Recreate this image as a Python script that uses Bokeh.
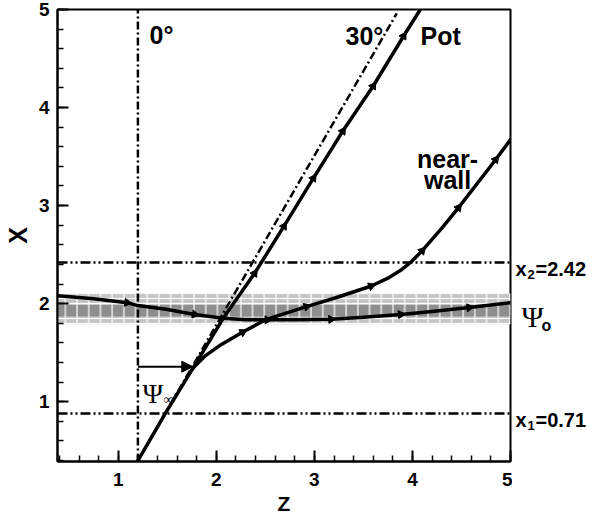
import numpy as np
from bokeh.plotting import figure
from bokeh.layouts import row
from bokeh.models import Range1d, Label, Arrow, NormalHead, SingleIntervalTicker
from bokeh.embed import file_html
from bokeh.resources import INLINE

# ---- data ----
pot_z = [1.20, 1.48, 1.76, 2.07, 2.39, 2.69, 2.99, 3.29, 3.60, 3.91, 4.08]
pot_x = [0.40, 0.88, 1.34, 1.85, 2.31, 2.79, 3.28, 3.76, 4.22, 4.73, 5.00]
pot_mk_z = [2.39, 2.69, 2.99, 3.29, 3.60, 3.91]
pot_mk_x = [2.31, 2.79, 3.28, 3.76, 4.22, 4.73]

deg30_z = [1.20, 3.84]
deg30_x = [0.40, 4.96]

wall_z = [1.76, 1.89, 2.03, 2.27, 2.51, 2.92, 3.25, 3.58, 3.75, 3.88, 3.98, 4.10, 4.30, 4.47, 4.85, 5.02]
wall_x = [1.34, 1.47, 1.57, 1.71, 1.84, 1.97, 2.07, 2.18, 2.26, 2.34, 2.42, 2.54, 2.77, 2.98, 3.47, 3.70]
wall_mk_z = [2.27, 2.92, 3.58, 4.10, 4.47, 4.85]
wall_mk_x = [1.71, 1.97, 2.18, 2.54, 2.98, 3.47]

psi_z = [0.38, 0.75, 1.09, 1.20, 1.50, 1.78, 2.07, 2.30, 2.51, 2.85, 3.17, 3.50, 3.88, 4.20, 4.58, 5.00]
psi_x = [2.08, 2.05, 2.01, 1.98, 1.94, 1.89, 1.85, 1.835, 1.835, 1.835, 1.84, 1.86, 1.89, 1.92, 1.96, 2.01]
psi_mk_z = [1.09, 1.78, 2.52, 3.17, 3.88, 4.58]
psi_mk_x = [2.01, 1.89, 1.835, 1.84, 1.89, 1.96]

zero_deg_z = 1.20
x_levels = [0.88, 2.42]
band_outer = (1.79, 2.10)
band_inner = (1.87, 1.985)
psi_inf_arrow_x = 1.357

ZMIN, ZMAX = 0.38, 5.0
XMIN, XMAX = 0.39, 5.0

FONT = "Liberation Sans"
FH = 452
BT, BB = 9, 46

p = figure(frame_width=453, frame_height=FH,
           x_range=Range1d(ZMIN, ZMAX), y_range=Range1d(XMIN, XMAX),
           output_backend="svg", toolbar_location=None,
           min_border_left=50, min_border_right=2, min_border_top=BT, min_border_bottom=BB)
p.grid.visible = False
p.outline_line_color = "black"
p.outline_line_width = 2

p.xaxis.ticker = SingleIntervalTicker(interval=1, num_minor_ticks=5)
p.yaxis.ticker = SingleIntervalTicker(interval=1, num_minor_ticks=5)
p.axis.major_tick_in = 11
p.axis.major_tick_out = 0
p.axis.minor_tick_in = 6
p.axis.minor_tick_out = 0
p.axis.major_tick_line_width = 2
p.axis.minor_tick_line_width = 1.5
p.axis.axis_line_width = 2
p.axis.major_label_text_font = FONT
p.axis.major_label_text_font_style = "bold"
p.axis.major_label_text_font_size = "19px"
p.axis.major_label_text_color = "black"
p.axis.axis_label_text_font = FONT
p.axis.axis_label_text_font_style = "bold"
p.axis.axis_label_text_color = "black"
p.xaxis.major_label_standoff = 11
p.yaxis.major_label_standoff = 8
p.xaxis.axis_label = "Z"
p.yaxis.axis_label = "X"
p.xaxis.axis_label_text_font_size = "21px"
p.yaxis.axis_label_text_font_size = "25px"
p.xaxis.axis_label_standoff = 3
p.yaxis.axis_label_standoff = 4

# ---- band ----
p.quad(left=ZMIN, right=ZMAX, bottom=band_outer[0], top=band_outer[1],
       fill_color="#c4c4c4", line_color=None,
       hatch_pattern="-", hatch_color="white", hatch_scale=5, hatch_weight=1.2)
p.quad(left=ZMIN, right=ZMAX, bottom=band_inner[0], top=band_inner[1],
       fill_color="#8e8e8e", line_color=None)
p.quad(left=ZMIN, right=ZMAX, bottom=band_outer[0], top=band_outer[1],
       fill_alpha=0, line_color=None,
       hatch_pattern="|", hatch_color="white", hatch_scale=11.7, hatch_weight=1.2)

# ---- reference lines ----
p.line([zero_deg_z, zero_deg_z], [XMIN, XMAX], line_color="black", line_width=2.5, line_dash="8 3 2 3")
for lv in x_levels:
    p.line([ZMIN, ZMAX], [lv, lv], line_color="black", line_width=2.5, line_dash="10 3 2 3 2 3")
p.line(deg30_z, deg30_x, line_color="black", line_width=2.5, line_dash="8 3 2 3")

# ---- curves ----
for zz, xx in ((pot_z, pot_x), (wall_z, wall_x), (psi_z, psi_x)):
    p.line(zz, xx, line_color="black", line_width=3.5, line_join="round", line_cap="round")

def marker_angles(cz, cx, mz, mx):
    cz = np.asarray(cz); cx = np.asarray(cx)
    out = []
    for a, b in zip(mz, mx):
        d = (cz - a) ** 2 + (cx - b) ** 2
        i = int(np.argmin(d))
        i0 = max(i - 1, 0); i1 = min(i + 1, len(cz) - 1)
        th = np.arctan2(cx[i1] - cx[i0], cz[i1] - cz[i0])
        out.append(th - np.pi / 2)
    return out

for cz, cx, mz, mx in ((pot_z, pot_x, pot_mk_z, pot_mk_x),
                       (wall_z, wall_x, wall_mk_z, wall_mk_x),
                       (psi_z, psi_x, psi_mk_z, psi_mk_x)):
    p.scatter(mz, mx, marker="triangle", size=8, angle=marker_angles(cz, cx, mz, mx),
              fill_color="black", line_color="black")

# ---- arrow ----
p.add_layout(Arrow(end=NormalHead(size=11, fill_color="black", line_color="black"),
                   x_start=zero_deg_z, y_start=psi_inf_arrow_x, x_end=1.76, y_end=psi_inf_arrow_x,
                   line_width=2, line_color="black"))

# ---- labels ----
def lab(fig, x, y, t, size, font=FONT, style="bold", align="left"):
    fig.add_layout(Label(x=x, y=y, text=t, text_font=font, text_font_style=style,
                         text_font_size=size, text_color="black", text_align=align,
                         text_baseline="alphabetic"))

lab(p, 1.318, 4.735, "0°", "25px")
lab(p, 3.317, 4.725, "30°", "25px")
lab(p, 4.082, 4.725, "Pot", "25px")
lab(p, 4.358, 3.48, "near-", "25px", align="center")
lab(p, 4.358, 3.256, "wall", "25px", align="center")
lab(p, 1.247, 1.084, "Ψ", "28px", font="Liberation Serif", style="normal")
lab(p, 1.461, 1.023, "∞", "14px", font="Liberation Serif", style="normal")

# ---- right-hand annotation strip (shares the X scale) ----
p2 = figure(frame_width=84, frame_height=FH, x_range=Range1d(0, 84), y_range=p.y_range,
            output_backend="svg", toolbar_location=None,
            x_axis_location=None, y_axis_location=None,
            min_border_left=0, min_border_right=0, min_border_top=BT, min_border_bottom=BB)
p2.grid.visible = False
p2.outline_line_color = None

lab(p2, 3, 2.358, "x", "20px")
lab(p2, 15, 2.297, "2", "13px")
lab(p2, 23, 2.358, "=2.42", "20px")
lab(p2, 3, 0.818, "x", "20px")
lab(p2, 15, 0.757, "1", "13px")
lab(p2, 23, 0.818, "=0.71", "20px")
lab(p2, 9, 1.869, "Ψ", "30px", font="Liberation Serif", style="normal")
lab(p2, 29, 1.777, "o", "16px")

layout = row(p, p2, spacing=0)
open("out.html", "w").write(file_html(layout, INLINE))
